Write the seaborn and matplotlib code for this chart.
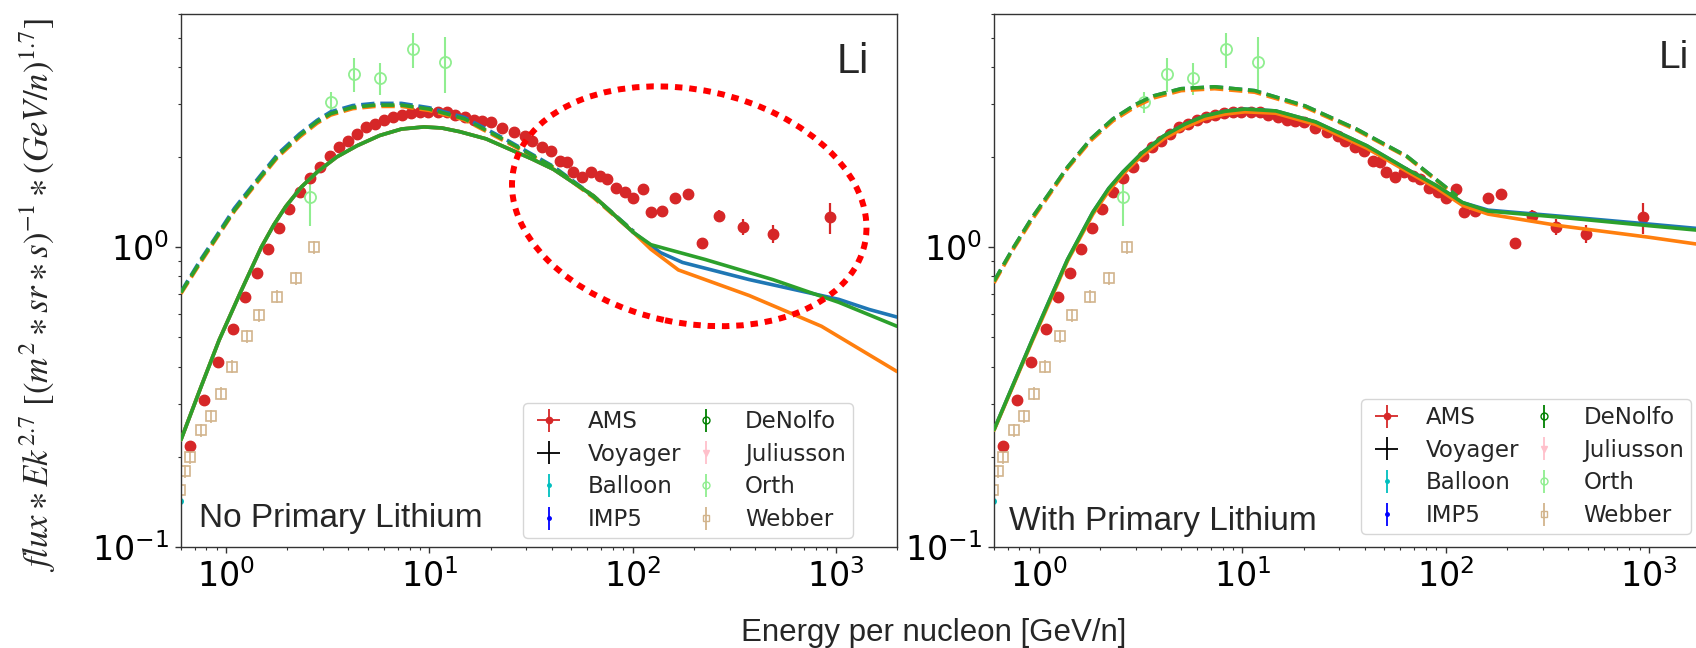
import numpy as np
import pandas as pd
import matplotlib
matplotlib.use("Agg")
import matplotlib.pyplot as plt
import seaborn as sns
from matplotlib.patches import Ellipse
from matplotlib.transforms import IdentityTransform

# ---------------- data ----------------
AMS_E = [0.665, 0.783, 0.915, 1.076, 1.24, 1.42, 1.61, 1.82, 2.05, 2.31,
         2.6, 2.9, 3.24, 3.61, 4.0, 4.42, 4.9, 5.4, 5.98, 6.6,
         7.3, 8.1, 8.96, 9.9, 11.0, 12.2, 13.4, 14.9, 16.5, 18.2,
         20.1, 22.9, 26.0, 29.4, 32.0, 36.0, 39.8, 44.0, 47.4, 51.0,
         56.7, 62.7, 69.5, 75.0, 83.0, 91.5, 101.0, 112.0, 123.0, 140.0,
         161.0, 187.0, 219.0, 267.0, 349.0, 490.0, 935.0]
AMS_F = [0.218, 0.31, 0.413, 0.532, 0.68, 0.82, 0.99, 1.16, 1.34, 1.53,
         1.70, 1.85, 2.02, 2.16, 2.26, 2.39, 2.52, 2.58, 2.66, 2.72,
         2.76, 2.80, 2.82, 2.83, 2.83, 2.83, 2.77, 2.73, 2.66, 2.64,
         2.62, 2.49, 2.43, 2.35, 2.26, 2.16, 2.09, 1.94, 1.92, 1.78,
         1.71, 1.78, 1.73, 1.69, 1.58, 1.53, 1.46, 1.57, 1.31, 1.32,
         1.46, 1.50, 1.03, 1.27, 1.17, 1.11, 1.26]
AMS_ERR = [0.004, 0.005, 0.006, 0.008, 0.01, 0.012, 0.014, 0.016, 0.018, 0.02,
           0.022, 0.024, 0.026, 0.028, 0.03, 0.03, 0.032, 0.032, 0.033, 0.034,
           0.034, 0.035, 0.035, 0.035, 0.035, 0.035, 0.035, 0.035, 0.035, 0.034,
           0.034, 0.034, 0.033, 0.033, 0.032, 0.032, 0.031, 0.03, 0.03, 0.03,
           0.03, 0.03, 0.03, 0.03, 0.03, 0.03, 0.03, 0.035, 0.035, 0.04,
           0.045, 0.05, 0.04, 0.06, 0.07, 0.08, 0.15]

ORTH_E = [2.6, 3.27, 4.25, 5.7, 8.3, 12.0]
ORTH_F = [1.47, 3.05, 3.79, 3.68, 4.57, 4.15]
ORTH_ERR = [0.29, 0.25, 0.50, 0.45, 0.62, 0.88]

WEBBER_E = [0.59, 0.627, 0.665, 0.75, 0.845, 0.94, 1.065, 1.27, 1.45, 1.78, 2.2, 2.7]
WEBBER_F = [0.155, 0.179, 0.199, 0.245, 0.273, 0.325, 0.40, 0.505, 0.593, 0.685, 0.79, 1.0]
WEBBER_ERR = [0.008, 0.009, 0.01, 0.012, 0.014, 0.016, 0.02, 0.025, 0.03, 0.034, 0.04, 0.05]

BALLOON_E = [0.595]
BALLOON_F = [0.142]
BALLOON_ERR = [0.01]

# model curves, left panel (no primary lithium): modulated (solid)
L_LOW_E = [0.6, 0.75, 0.924, 1.18, 1.49, 1.72, 1.97, 2.35, 2.8, 3.5, 4.4, 5.7, 7.3,
           9.4, 11.5, 14.1, 19.0, 24.6, 32.0, 40.8, 64.5, 101.0]
L_LOW_F = [0.228, 0.34, 0.49, 0.71, 1.0, 1.19, 1.37, 1.59, 1.78, 2.0, 2.18, 2.36, 2.48,
           2.52, 2.50, 2.43, 2.30, 2.13, 1.97, 1.82, 1.48, 1.12]
L_GREEN_HI_E = [123.0, 228.0, 490.0, 1034.0, 2000.0]
L_GREEN_HI_F = [1.02, 0.91, 0.78, 0.655, 0.545]
L_BLUE_HI_E = [137.0, 176.0, 375.0, 1034.0, 1460.0, 2000.0]
L_BLUE_HI_F = [0.96, 0.89, 0.78, 0.67, 0.62, 0.585]
L_ORANGE_HI_E = [123.0, 168.0, 375.0, 850.0, 2000.0]
L_ORANGE_HI_F = [0.985, 0.84, 0.69, 0.545, 0.385]

# left panel: interstellar (dashed)
L_LIS_E = [0.6, 0.75, 0.88, 1.1, 1.45, 1.8, 2.3, 2.8, 3.27, 4.2, 5.4, 7.3, 10.0,
           14.9, 24.6, 40.8, 64.5, 101.0]
L_LIS_GREEN = [0.706, 0.90, 1.06, 1.33, 1.69, 2.02, 2.36, 2.62, 2.79, 2.93, 2.98, 2.98,
               2.89, 2.68, 2.24, 1.85, 1.47, 1.13]
L_LIS_BLUE = [0.71, 0.91, 1.07, 1.35, 1.71, 2.05, 2.39, 2.65, 2.83, 2.97, 3.02, 3.02,
              2.92, 2.71, 2.26, 1.86, 1.48, 1.13]
L_LIS_ORANGE = [0.70, 0.89, 1.05, 1.32, 1.67, 2.00, 2.33, 2.59, 2.76, 2.90, 2.95, 2.95,
                2.86, 2.66, 2.22, 1.84, 1.46, 1.12]

# model curves, right panel (with primary lithium)
R_E = [0.6, 0.924, 1.13, 1.38, 1.84, 2.2, 2.58, 3.2, 4.1, 5.2, 6.5, 8.2, 10.3, 14.6,
       22.9, 41.0, 64.6, 91.0, 121.0, 162.0, 363.0, 1000.0, 2000.0]
R_GREEN = [0.246, 0.49, 0.67, 0.91, 1.31, 1.57, 1.78, 2.06, 2.35, 2.57, 2.74, 2.84, 2.89,
           2.85, 2.62, 2.18, 1.82, 1.60, 1.41, 1.32, 1.26, 1.18, 1.13]
R_BLUE = [0.246, 0.49, 0.67, 0.91, 1.31, 1.57, 1.78, 2.06, 2.35, 2.57, 2.74, 2.84, 2.89,
          2.85, 2.62, 2.18, 1.82, 1.60, 1.41, 1.33, 1.27, 1.195, 1.145]
R_ORANGE = [0.245, 0.485, 0.66, 0.90, 1.29, 1.54, 1.75, 2.02, 2.30, 2.51, 2.68, 2.78,
            2.83, 2.80, 2.57, 2.14, 1.79, 1.57, 1.38, 1.29, 1.18, 1.08, 1.01]
R_LIS_E = [0.6, 0.75, 0.92, 1.15, 1.38, 1.8, 2.31, 3.0, 3.67, 5.0, 7.3, 11.5, 20.4,
           36.4, 64.6, 114.0]
R_LIS_GREEN = [0.77, 1.0, 1.25, 1.55, 1.85, 2.3, 2.68, 3.0, 3.2, 3.38, 3.43, 3.33, 2.96,
               2.48, 2.01, 1.48]
R_LIS_BLUE = [0.77, 1.0, 1.25, 1.55, 1.85, 2.3, 2.68, 3.0, 3.2, 3.38, 3.43, 3.33, 2.96,
              2.48, 2.01, 1.48]
R_LIS_ORANGE = [0.76, 0.99, 1.23, 1.53, 1.83, 2.27, 2.64, 2.95, 3.15, 3.33, 3.38, 3.29,
                2.93, 2.46, 2.00, 1.47]

XLIM = (0.6, 2000)
YLIM = (0.1, 6.0)

# ---------------- style ----------------
sns.set_theme(style="ticks", color_codes=False)
plt.rcParams.update({
    "font.family": ["DejaVu Sans"],
    "mathtext.fontset": "dejavusans",
    "axes.linewidth": 1.0,
    "axes.edgecolor": "#333333",
    "xtick.major.size": 4.3, "ytick.major.size": 4.3,
    "xtick.minor.size": 2.4, "ytick.minor.size": 2.4,
    "xtick.major.width": 1.0, "ytick.major.width": 1.0,
    "xtick.minor.width": 0.8, "ytick.minor.width": 0.8,
    "xtick.major.pad": 4.3, "ytick.major.pad": 4.3,
    "xtick.labelsize": 24, "ytick.labelsize": 24,
    "xtick.color": "#333333", "ytick.color": "#333333",
    "xtick.labelcolor": "black", "ytick.labelcolor": "black",
})

W, H = 1696, 648
fig = plt.figure(figsize=(W / 100, H / 100), dpi=100)


def px_axes(l, r, t, b):
    return fig.add_axes([l / W, 1 - b / H, (r - l) / W, (b - t) / H])


axL = px_axes(181, 897, 14, 547)
axR = px_axes(994, 1710, 14, 547)

C_BLUE, C_ORANGE, C_GREEN = "#1f77b4", "#ff7f0e", "#2ca02c"
C_CYAN, C_IMP, C_DEN = "#00bfbf", "#0000ff", "#008000"
LW = 2.6


def draw_data(ax):
    ax.errorbar(AMS_E, AMS_F, yerr=AMS_ERR, fmt="o", color="#d62728", ms=7.5,
                elinewidth=1.6, capsize=0, zorder=2)
    ax.errorbar(ORTH_E, ORTH_F, yerr=ORTH_ERR, fmt="o", color="lightgreen", mfc="none",
                mec="lightgreen", ms=8, mew=1.3, elinewidth=1.5, zorder=2)
    ax.errorbar(WEBBER_E, WEBBER_F, yerr=WEBBER_ERR, fmt="s", color="tan", mfc="none",
                mec="tan", ms=6.5, mew=1.2, elinewidth=1.2, zorder=2)
    ax.errorbar(BALLOON_E, BALLOON_F, yerr=BALLOON_ERR, fmt="o", color=C_CYAN, ms=4,
                elinewidth=1.2, zorder=2)


def draw_curve(ax, e, f, color, ls):
    df = pd.DataFrame({"E": e, "F": f})
    sns.lineplot(data=df, x="E", y="F", ax=ax, color=color, lw=LW, linestyle=ls,
                 zorder=3, legend=False)


def legend_handles(ax):
    nan = [np.nan]
    hs = []
    hs.append(ax.errorbar(nan, nan, xerr=[1], yerr=[1], fmt="o", color="#d62728", ms=4.5,
                          elinewidth=1.3, label="AMS"))
    hs.append(ax.errorbar(nan, nan, xerr=[1], yerr=[1], fmt="none", ecolor="black",
                          elinewidth=1.3, label="Voyager"))
    hs.append(ax.errorbar(nan, nan, yerr=[1], fmt="o", color=C_CYAN, ms=2.5,
                          elinewidth=1.3, label="Balloon"))
    hs.append(ax.errorbar(nan, nan, yerr=[1], fmt="o", color=C_IMP, ms=2.5,
                          elinewidth=1.3, label="IMP5"))
    hs.append(ax.errorbar(nan, nan, yerr=[1], fmt="o", color=C_DEN, mfc="none", ms=5,
                          elinewidth=1.3, label="DeNolfo"))
    hs.append(ax.errorbar(nan, nan, yerr=[1], fmt="v", color="pink", ms=5,
                          elinewidth=1.3, label="Juliusson"))
    hs.append(ax.errorbar(nan, nan, yerr=[1], fmt="o", color="lightgreen", mfc="none", ms=5,
                          elinewidth=1.3, label="Orth"))
    hs.append(ax.errorbar(nan, nan, yerr=[1], fmt="s", color="tan", mfc="none", ms=5,
                          elinewidth=1.3, label="Webber"))
    return hs


def finish(ax, anchor, text, tpos, li_pos, li_size):
    ax.set_xscale("log")
    ax.set_yscale("log")
    ax.set_xlim(*XLIM)
    ax.set_ylim(*YLIM)
    ax.set_xlabel("")
    ax.set_ylabel("")
    for s in ax.spines.values():
        s.set_visible(True)
    hs = legend_handles(ax)
    ax.legend(handles=hs, ncol=2, loc="lower right", bbox_to_anchor=anchor,
              borderaxespad=0, fontsize=16.5, handlelength=1.6, handletextpad=0.9,
              columnspacing=0.3, labelspacing=0.42, borderpad=0.3, frameon=True,
              edgecolor="0.8", fancybox=True, framealpha=0.8)
    ax.text(tpos[0], tpos[1], text, transform=ax.transAxes, fontsize=24,
            family="Liberation Sans", va="baseline", ha="left")
    ax.text(li_pos[0], li_pos[1], "Li", transform=ax.transAxes, fontsize=li_size,
            family="Liberation Sans", va="baseline", ha="left")


# left panel
draw_data(axL)
draw_curve(axL, L_LOW_E + L_BLUE_HI_E, L_LOW_F + L_BLUE_HI_F, C_BLUE, "-")
draw_curve(axL, L_LIS_E, L_LIS_BLUE, C_BLUE, "--")
draw_curve(axL, L_LOW_E + L_ORANGE_HI_E, L_LOW_F + L_ORANGE_HI_F, C_ORANGE, "-")
draw_curve(axL, L_LIS_E, L_LIS_ORANGE, C_ORANGE, "--")
draw_curve(axL, L_LOW_E + L_GREEN_HI_E, L_LOW_F + L_GREEN_HI_F, C_GREEN, "-")
draw_curve(axL, L_LIS_E, L_LIS_GREEN, C_GREEN, "--")
finish(axL, (0.9385, 0.017), "No Primary Lithium", (0.025, 0.0375), (0.916, 0.889), 30)

# right panel
draw_data(axR)
draw_curve(axR, R_E, R_BLUE, C_BLUE, "-")
draw_curve(axR, R_LIS_E, R_LIS_BLUE, C_BLUE, "--")
draw_curve(axR, R_E, R_ORANGE, C_ORANGE, "-")
draw_curve(axR, R_LIS_E, R_LIS_ORANGE, C_ORANGE, "--")
draw_curve(axR, R_E, R_GREEN, C_GREEN, "-")
draw_curve(axR, R_LIS_E, R_LIS_GREEN, C_GREEN, "--")
finish(axR, (0.9735, 0.0244), "With Primary Lithium", (0.021, 0.032), (0.929, 0.899), 28)

# red dotted ellipse highlighting the high-energy region (annotation)
ELL_CENTER_E, ELL_CENTER_F = 190.0, 1.37
ELL_W_PX, ELL_H_PX, ELL_ANGLE = 359, 233, -12
fig.canvas.draw()
cx, cy = axL.transData.transform((ELL_CENTER_E, ELL_CENTER_F))
ell = Ellipse((cx, cy), ELL_W_PX, ELL_H_PX, angle=ELL_ANGLE, transform=IdentityTransform(),
              fill=False, edgecolor="#ff0000", lw=4.3, linestyle=(0, (1.25, 1.15)),
              capstyle="butt", zorder=10, clip_on=False)
fig.add_artist(ell)

# axis labels
fig.text(934 / W, 1 - 633 / H, "Energy per nucleon [GeV/n]", ha="center", va="center",
         fontsize=22.5, family="Liberation Sans")
fig.text(38 / W, 1 - 295 / H,
         r"$flux \ast Ek^{2.7}\ [(m^2 \ast sr \ast s)^{-1} \ast (GeV/n)^{1.7}]$",
         rotation=90, ha="center", va="center", fontsize=25, math_fontfamily="stix")

fig.savefig("out.png", dpi=100)
